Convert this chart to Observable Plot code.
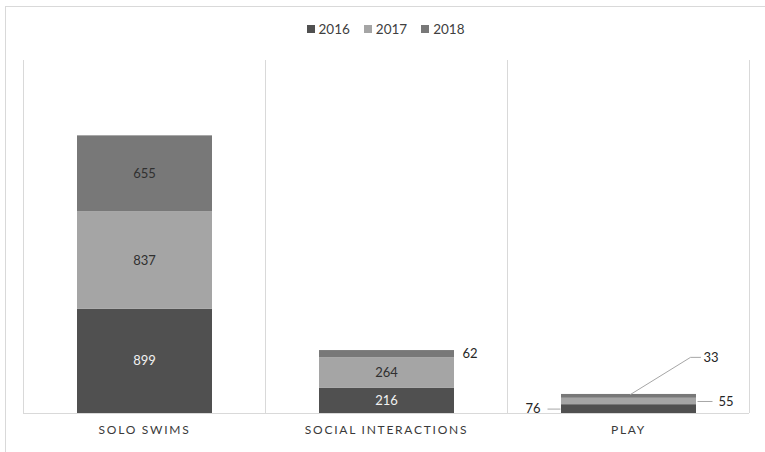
<!DOCTYPE html>
<html>
<head>
<meta charset="utf-8">
<script src="https://cdn.jsdelivr.net/npm/d3@7"></script>
<script src="https://cdn.jsdelivr.net/npm/@observablehq/plot@0.6"></script>
<style>
  html, body { margin: 0; padding: 0; background: #fff; }
  #wrap { position: relative; width: 765px; height: 452px; overflow: hidden; font-family: Lato, "Open Sans", sans-serif; background: #fff; }
  #border { position: absolute; left: 5px; top: 6px; width: 800px; height: 500px; border-top: 1px solid #d9d9d9; border-left: 1px solid #d9d9d9; z-index: 2; pointer-events: none; }
  #legend { position: relative; height: 45px; display: flex; justify-content: center; align-items: flex-start; gap: 14px; padding-left: 6px; padding-top: 21px; box-sizing: border-box; font-size: 13.5px; line-height: 16px; color: #404040; }
  #legend .item { display: flex; align-items: center; gap: 4px; }
  #legend .sw { width: 8px; height: 8px; display: inline-block; }
  #chart { position: relative; z-index: 1; }
</style>
</head>
<body>
<div id="wrap">
  <div id="border"></div>
  <div id="legend"></div>
  <div id="chart"></div>
</div>
<script>
// ---- data ----
const categories = ["SOLO SWIMS", "SOCIAL INTERACTIONS", "PLAY"];
const years = ["2016", "2017", "2018"];
const values2016 = [899, 216, 76];
const values2017 = [837, 264, 55];
const values2018 = [655, 62, 33];
const colors = ["#505050", "#a5a5a5", "#787878"];

const seriesByYear = {"2016": values2016, "2017": values2017, "2018": values2018};
const rows = [];
categories.forEach((cat, i) => {
  years.forEach(yr => rows.push({cat, year: yr, value: seriesByYear[yr][i]}));
});

// which labels are drawn outside the bars (Excel best-fit placement)
const outside = new Set(["SOCIAL INTERACTIONS|2018", "PLAY|2016", "PLAY|2017", "PLAY|2018"]);
const key = d => d.cat + "|" + d.year;

// ---- layout ----
const W = 765, H = 407;
const mT = 15, mB = 39, mL = 23, mR = 16;
const yMax = 3040;
const pxPerUnit = (H - mT - mB) / yMax;
const half = (W - mL - mR) / categories.length / 2;

// legend
const legend = document.getElementById("legend");
years.forEach((yr, i) => {
  const it = document.createElement("span");
  it.className = "item";
  it.innerHTML = `<span class="sw" style="background:${colors[i]}"></span><span>${yr}</span>`;
  legend.appendChild(it);
});

const stackOpts = {fx: "cat", y: "value", z: "year", order: null};
const labelFont = {fontFamily: "Lato, 'Open Sans', sans-serif", fontSize: 13};

function outsideLabel(cat, yr, opts) {
  return Plot.text(rows, Plot.stackY({
    ...stackOpts,
    text: d => (d.cat === cat && d.year === yr) ? String(d.value) : "",
    fill: "#262626",
    ...labelFont,
    ...opts
  }));
}

const playIdx = categories.indexOf("PLAY");
const playTop = values2016[playIdx] + values2017[playIdx] + values2018[playIdx];
const play33Mid = playTop - values2018[playIdx] / 2;
const lift33 = 39 / pxPerUnit;
const leader33 = [
  {cat: "PLAY", x: 2, y: playTop},
  {cat: "PLAY", x: 62, y: play33Mid + lift33},
  {cat: "PLAY", x: 72, y: play33Mid + lift33}
];
const play55Mid = values2016[playIdx] + values2017[playIdx] / 2;
const play76Mid = values2016[playIdx] / 2;
const leaders = [
  {cat: "PLAY", x1: 69, x2: 84, y: play55Mid},
  {cat: "PLAY", x1: -81, x2: -68, y: play76Mid}
];

const chart = Plot.plot({
  width: W,
  height: H,
  marginTop: mT,
  marginBottom: mB,
  marginLeft: mL,
  marginRight: mR,
  fx: {domain: categories, padding: 0, axis: null},
  x: {domain: [-half, half], axis: null},
  y: {domain: [0, yMax], axis: null},
  color: {domain: years, range: colors},
  style: {fontFamily: "Lato, 'Open Sans', sans-serif", background: "transparent"},
  marks: [
    Plot.ruleX([-half, half], {stroke: "#d9d9d9"}),
    Plot.barY(rows, Plot.stackY({...stackOpts, fill: "year", insetLeft: 54, insetRight: 53})),
    Plot.ruleY([0], {stroke: "#d9d9d9"}),
    // inside labels
    Plot.text(rows, Plot.stackY({
      ...stackOpts,
      text: d => outside.has(key(d)) ? "" : String(d.value),
      fill: d => d.year === "2016" ? "#f2f2f2" : "#303030",
      ...labelFont
    })),
    // outside labels
    outsideLabel("SOCIAL INTERACTIONS", "2018", {textAnchor: "start", dx: 76}),
    outsideLabel("PLAY", "2017", {textAnchor: "start", dx: 90}),
    outsideLabel("PLAY", "2016", {textAnchor: "end", dx: -88}),
    outsideLabel("PLAY", "2018", {textAnchor: "start", dx: 75, dy: -39}),
    // leader lines
    Plot.line(leader33, {fx: "cat", x: "x", y: "y", stroke: "#a6a6a6", strokeWidth: 1}),
    Plot.link(leaders, {fx: "cat", x1: "x1", x2: "x2", y1: "y", y2: "y", stroke: "#a6a6a6", strokeWidth: 1}),
    // category labels
    Plot.text(categories, {fx: d => d, text: d => d, frameAnchor: "bottom", dy: 20, fill: "#3a3a3a", fontSize: 12, fontFamily: "Lato, 'Open Sans', sans-serif"})
  ]
});

// letter-spacing on category labels
d3.select(chart).selectAll("text").filter(function() { return categories.includes(this.textContent); })
  .attr("letter-spacing", "1.75px");

document.getElementById("chart").appendChild(chart);
</script>
</body>
</html>
